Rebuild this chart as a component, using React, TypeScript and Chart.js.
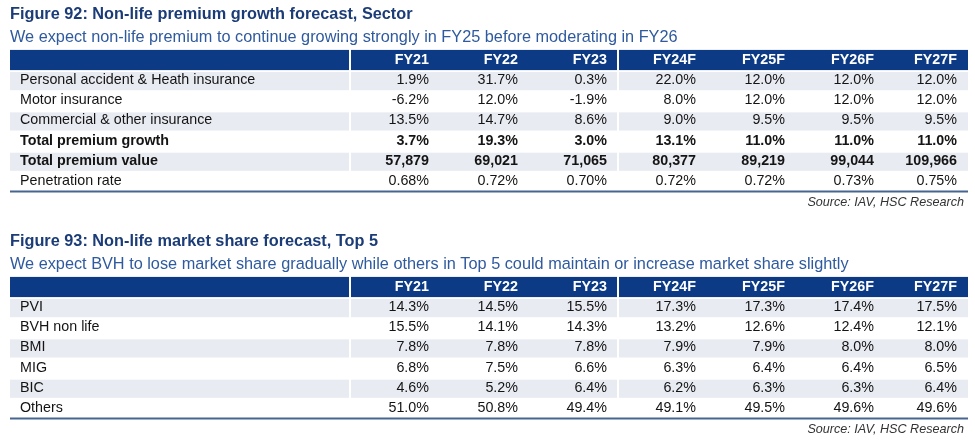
import React, { useEffect, useRef } from "react";
import { Chart, registerables } from "chart.js";

Chart.register(...registerables);

// ---------- data ----------
const COLUMNS = ["FY21", "FY22", "FY23", "FY24F", "FY25F", "FY26F", "FY27F"];
const SOURCE = "Source: IAV, HSC Research";

const T1_TITLE = "Figure 92: Non-life premium growth forecast, Sector";
const T1_SUBTITLE =
  "We expect non-life premium to continue growing strongly in FY25 before moderating in FY26";
const T1_ROWS = [
  "Personal accident & Heath insurance",
  "Motor insurance",
  "Commercial & other insurance",
  "Total premium growth",
  "Total premium value",
  "Penetration rate",
];
const T1_BOLD = [false, false, false, true, true, false];
const personalAccident = [1.9, 31.7, 0.3, 22.0, 12.0, 12.0, 12.0];
const motorInsurance = [-6.2, 12.0, -1.9, 8.0, 12.0, 12.0, 12.0];
const commercialOther = [13.5, 14.7, 8.6, 9.0, 9.5, 9.5, 9.5];
const totalPremiumGrowth = [3.7, 19.3, 3.0, 13.1, 11.0, 11.0, 11.0];
const totalPremiumValue = [57879, 69021, 71065, 80377, 89219, 99044, 109966];
const penetrationRate = [0.68, 0.72, 0.7, 0.72, 0.72, 0.73, 0.75];

const T2_TITLE = "Figure 93: Non-life market share forecast, Top 5";
const T2_SUBTITLE =
  "We expect BVH to lose market share gradually while others in Top 5 could maintain or increase market share slightly";
const T2_ROWS = ["PVI", "BVH non life", "BMI", "MIG", "BIC", "Others"];
const T2_BOLD = [false, false, false, false, false, false];
const pviShare = [14.3, 14.5, 15.5, 17.3, 17.3, 17.4, 17.5];
const bvhShare = [15.5, 14.1, 14.3, 13.2, 12.6, 12.4, 12.1];
const bmiShare = [7.8, 7.8, 7.8, 7.9, 7.9, 8.0, 8.0];
const migShare = [6.8, 7.5, 6.6, 6.3, 6.4, 6.4, 6.5];
const bicShare = [4.6, 5.2, 6.4, 6.2, 6.3, 6.3, 6.4];
const othersShare = [51.0, 50.8, 49.4, 49.1, 49.5, 49.6, 49.6];

// ---------- formatting ----------
const pct1 = (v: number) => v.toFixed(1) + "%";
const pct2 = (v: number) => v.toFixed(2) + "%";
const thousands = (v: number) => v.toLocaleString("en-US");

// ---------- layout / style ----------
const FONT = "'Liberation Sans', Arial, sans-serif";
const COL_WIDTHS = [340, 90, 89, 89, 89, 89, 89, 83];
const EDGES = COL_WIDTHS.reduce<number[]>((a, w) => [...a, a[a.length - 1] + w], [0]);
const GROUPS: [number, number][] = [
  [0, 1],
  [1, 4],
  [4, 8],
];
const HEADER_BG = "#0c3a84";
const SHADE_BG = "#e9ebf3";
const TITLE_COLOR = "#1b3c77";
const SUBTITLE_COLOR = "#2f5a9e";
const TEXT_COLOR = "#141414";
const LINE_COLOR = "#46658f";
const CELL_FONT = 14.3;
const CHART_BOTTOM = 191;

const tablePlugin = {
  id: "tableCells",
  beforeDatasetsDraw(chart: any, _args: any, opts: any) {
    const { ctx, scales } = chart;
    const x = scales.x;
    const y = scales.y;
    const nRows = opts.rowLabels.length;
    ctx.save();
    for (let r = 0; r <= nRows; r++) {
      if (r !== 0 && r % 2 === 0) continue;
      ctx.fillStyle = r === 0 ? HEADER_BG : SHADE_BG;
      const top = y.getPixelForValue(r - 0.5) + (r === 0 ? 0 : 2);
      const bottom = y.getPixelForValue(r + 0.5);
      for (const [g0, g1] of GROUPS) {
        const left = x.getPixelForValue(EDGES[g0]) + (g0 > 0 ? 1 : 0);
        const right = x.getPixelForValue(EDGES[g1]) - (g1 < COL_WIDTHS.length ? 1 : 0);
        ctx.fillRect(left, top, right - left, bottom - top);
      }
    }
    ctx.restore();
  },
  afterDatasetsDraw(chart: any, _args: any, opts: any) {
    const { ctx, scales } = chart;
    const x = scales.x;
    const y = scales.y;
    const nRows = opts.rowLabels.length;
    ctx.save();
    ctx.textBaseline = "middle";

    // header
    ctx.fillStyle = "#ffffff";
    ctx.font = `bold ${CELL_FONT}px ${FONT}`;
    ctx.textAlign = "right";
    COLUMNS.forEach((c, i) => {
      ctx.fillText(c, x.getPixelForValue(EDGES[i + 2]) - 11, y.getPixelForValue(0));
    });

    // row labels
    ctx.fillStyle = TEXT_COLOR;
    ctx.textAlign = "left";
    opts.rowLabels.forEach((lab: string, r: number) => {
      ctx.font = `${opts.rowBold[r] ? "bold " : ""}${CELL_FONT}px ${FONT}`;
      ctx.fillText(lab, x.getPixelForValue(EDGES[0]) + 10, y.getPixelForValue(r + 1));
    });

    // values, positioned by the dataset's elements
    const meta = chart.getDatasetMeta(0);
    const raw = chart.data.datasets[0].data;
    ctx.textAlign = "right";
    meta.data.forEach((el: any, i: number) => {
      const d = raw[i];
      ctx.font = `${opts.rowBold[d.r] ? "bold " : ""}${CELL_FONT}px ${FONT}`;
      const rightEdge = x.getPixelForValue(EDGES[d.c + 2]) - 11;
      ctx.fillText(opts.rowFormats[d.r](d.v), rightEdge, el.y);
    });

    // bottom rule
    const lineY = y.getPixelForValue(nRows + 0.5) + 0.5;
    ctx.strokeStyle = LINE_COLOR;
    ctx.lineWidth = 2;
    ctx.beginPath();
    ctx.moveTo(x.getPixelForValue(EDGES[0]), lineY);
    ctx.lineTo(x.getPixelForValue(EDGES[EDGES.length - 1]), lineY);
    ctx.stroke();

    // source
    ctx.fillStyle = "#333333";
    ctx.font = `italic 12.6px ${FONT}`;
    ctx.textAlign = "right";
    ctx.fillText(SOURCE, x.getPixelForValue(EDGES[EDGES.length - 1]) - 4, lineY + 10.5);
    ctx.restore();
  },
};

type TableProps = {
  title: string;
  subtitle: string;
  rowLabels: string[];
  rowValues: number[][];
  rowFormats: ((v: number) => string)[];
  rowBold: boolean[];
  height: number;
};

function TableFigure(props: TableProps) {
  const ref = useRef<HTMLCanvasElement>(null);
  useEffect(() => {
    const { title, subtitle, rowLabels, rowValues, rowFormats, rowBold, height } = props;
    const cells: any[] = [];
    rowValues.forEach((vals, r) =>
      vals.forEach((v, c) =>
        cells.push({ x: (EDGES[c + 1] + EDGES[c + 2]) / 2, y: r + 1, v, r, c })
      )
    );
    const chart = new Chart(ref.current as HTMLCanvasElement, {
      type: "scatter",
      data: {
        datasets: [
          {
            data: cells,
            pointRadius: 0,
            pointHoverRadius: 0,
            showLine: false,
          } as any,
        ],
      },
      options: {
        responsive: false,
        animation: false,
        events: [],
        layout: { padding: { left: 10, right: 7, top: 0, bottom: height - CHART_BOTTOM } },
        plugins: {
          legend: { display: false },
          tooltip: { enabled: false },
          title: {
            display: true,
            text: title,
            align: "start",
            color: TITLE_COLOR,
            font: { family: FONT, size: 16.3, weight: "bold", lineHeight: 1.2 },
            padding: { top: 4.4, bottom: 2 },
          },
          subtitle: {
            display: true,
            text: subtitle,
            align: "start",
            color: SUBTITLE_COLOR,
            font: { family: FONT, size: 16.3, weight: "normal", lineHeight: 1.2 },
            padding: { top: 1.7, bottom: 2.7 },
          },
          tableCells: { rowLabels, rowFormats, rowBold },
        } as any,
        scales: {
          x: { type: "linear", min: 0, max: EDGES[EDGES.length - 1], display: false },
          y: {
            type: "linear",
            min: -0.5,
            max: rowLabels.length + 0.5,
            reverse: true,
            display: false,
          },
        },
      },
      plugins: [tablePlugin as any],
    });
    return () => chart.destroy();
  }, []);
  return (
    <canvas
      ref={ref}
      width={975}
      height={props.height}
      style={{ display: "block", width: 975, height: props.height }}
    />
  );
}

export default function App() {
  return (
    <div
      style={{
        position: "absolute",
        left: 0,
        top: 0,
        width: 975,
        height: 442,
        background: "#ffffff",
        overflow: "hidden",
      }}
    >
      <TableFigure
        title={T1_TITLE}
        subtitle={T1_SUBTITLE}
        rowLabels={T1_ROWS}
        rowValues={[
          personalAccident,
          motorInsurance,
          commercialOther,
          totalPremiumGrowth,
          totalPremiumValue,
          penetrationRate,
        ]}
        rowFormats={[pct1, pct1, pct1, pct1, thousands, pct2]}
        rowBold={T1_BOLD}
        height={227}
      />
      <TableFigure
        title={T2_TITLE}
        subtitle={T2_SUBTITLE}
        rowLabels={T2_ROWS}
        rowValues={[pviShare, bvhShare, bmiShare, migShare, bicShare, othersShare]}
        rowFormats={[pct1, pct1, pct1, pct1, pct1, pct1]}
        rowBold={T2_BOLD}
        height={215}
      />
    </div>
  );
}
